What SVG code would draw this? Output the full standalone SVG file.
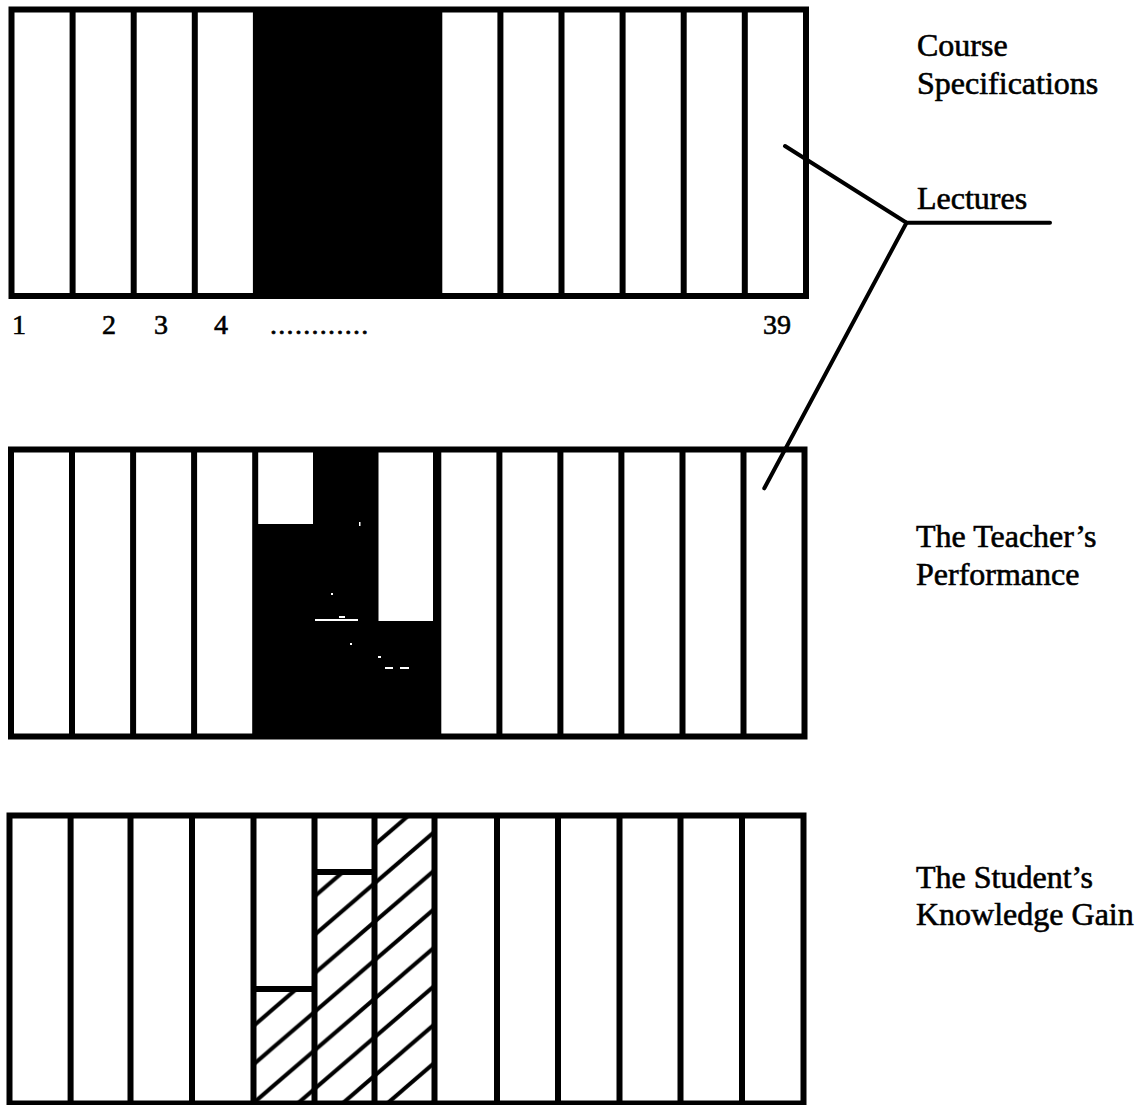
<svg xmlns="http://www.w3.org/2000/svg" width="1147" height="1105" viewBox="0 0 1147 1105">
  <style>
    .frame { fill: none; stroke: #000; stroke-width: 6; }
    .sep { stroke: #000; stroke-width: 6; }
    .lead { stroke: #000; stroke-width: 4; fill: none; stroke-linecap: round; }
    .lbl { font-family: "Liberation Serif", "Times New Roman", serif; font-size: 32px; fill: #000; stroke: #000; stroke-width: 0.6; }
    .num { font-family: "Liberation Serif", "Times New Roman", serif; font-size: 28px; fill: #000; stroke: #000; stroke-width: 0.6; }
  </style>
  <defs>
    <!-- diagonal hatch, lines rising to the right -->
    <pattern id="hatch" patternUnits="userSpaceOnUse" x="0" y="11.9" width="44.77" height="38.5">
      <line x1="-2" y1="40.22" x2="46.77" y2="-1.72" stroke="#000" stroke-width="4"/>
      <line x1="-2" y1="1.72" x2="4" y2="-3.44" stroke="#000" stroke-width="4"/>
      <line x1="40.77" y1="41.94" x2="46.77" y2="36.78" stroke="#000" stroke-width="4"/>
    </pattern>
  </defs>

  <rect width="1147" height="1105" fill="#fff"/>

  <!-- Course specifications: 13 lecture slots, middle block filled -->
  <g id="course-specifications">
    <rect x="255.9" y="9.5" width="183.4" height="286.5" fill="#000"/>
    <g class="sep">
      <line x1="72.6" y1="9.5" x2="72.6" y2="296"/>
      <line x1="133.7" y1="9.5" x2="133.7" y2="296"/>
      <line x1="194.8" y1="9.5" x2="194.8" y2="296"/>
      <line x1="255.9" y1="9.5" x2="255.9" y2="296"/>
      <line x1="439.3" y1="9.5" x2="439.3" y2="296"/>
      <line x1="500.4" y1="9.5" x2="500.4" y2="296"/>
      <line x1="561.5" y1="9.5" x2="561.5" y2="296"/>
      <line x1="622.6" y1="9.5" x2="622.6" y2="296"/>
      <line x1="683.7" y1="9.5" x2="683.7" y2="296"/>
      <line x1="744.8" y1="9.5" x2="744.8" y2="296"/>
    </g>
    <rect class="frame" x="11.5" y="9.5" width="794.5" height="286.5"/>
    <text class="lbl" x="917" y="56">Course</text>
    <text class="lbl" x="917" y="94">Specifications</text>
  </g>

  <!-- lecture numbering -->
  <g id="lecture-numbers" class="num">
    <text x="12" y="334">1</text>
    <text x="102" y="334">2</text>
    <text x="154" y="334">3</text>
    <text x="214" y="334">4</text>
    <text x="270" y="334" letter-spacing="1.3">............</text>
    <text x="763" y="334">39</text>
  </g>

  <!-- teacher's performance -->
  <g id="teacher-performance">
    <rect x="255.2" y="449.5" width="183.1" height="287" fill="#000"/>
    <rect x="257.5" y="452" width="55.5" height="72" fill="#fff"/>
    <rect x="378.5" y="452" width="54.5" height="169" fill="#fff"/>
    <!-- scattered light specks in the dark block -->
    <g fill="#fff">
      <rect x="315" y="619" width="43" height="2"/>
      <rect x="339" y="616" width="6" height="2"/>
      <rect x="385" y="667" width="8" height="2"/>
      <rect x="400" y="667" width="9" height="2"/>
      <rect x="359" y="522" width="1.5" height="4"/>
      <rect x="331" y="593" width="2" height="2"/>
      <rect x="350" y="643" width="2" height="2"/>
      <rect x="378" y="656" width="3" height="2"/>
    </g>
    <g class="sep">
      <line x1="72" y1="449.5" x2="72" y2="736.5"/>
      <line x1="133.1" y1="449.5" x2="133.1" y2="736.5"/>
      <line x1="194.1" y1="449.5" x2="194.1" y2="736.5"/>
      <line x1="255.2" y1="449.5" x2="255.2" y2="736.5"/>
      <line x1="438.3" y1="449.5" x2="438.3" y2="736.5"/>
      <line x1="499.4" y1="449.5" x2="499.4" y2="736.5"/>
      <line x1="560.4" y1="449.5" x2="560.4" y2="736.5"/>
      <line x1="621.4" y1="449.5" x2="621.4" y2="736.5"/>
      <line x1="682.5" y1="449.5" x2="682.5" y2="736.5"/>
      <line x1="743.5" y1="449.5" x2="743.5" y2="736.5"/>
    </g>
    <rect class="frame" x="11" y="449.5" width="793.5" height="287"/>
    <text class="lbl" x="916" y="547">The Teacher’s</text>
    <text class="lbl" x="916" y="585">Performance</text>
  </g>

  <!-- student's knowledge gain -->
  <g id="student-knowledge-gain">
    <rect x="253.5" y="989" width="61" height="114.5" fill="url(#hatch)"/>
    <rect x="314.5" y="872" width="60" height="231.5" fill="url(#hatch)"/>
    <rect x="374.5" y="815.5" width="60" height="288" fill="url(#hatch)"/>
    <g class="sep">
      <line x1="70.6" y1="815.5" x2="70.6" y2="1103.5"/>
      <line x1="130.5" y1="815.5" x2="130.5" y2="1103.5"/>
      <line x1="192" y1="815.5" x2="192" y2="1103.5"/>
      <line x1="253.5" y1="815.5" x2="253.5" y2="1103.5"/>
      <line x1="314.5" y1="815.5" x2="314.5" y2="1103.5"/>
      <line x1="374.5" y1="815.5" x2="374.5" y2="1103.5"/>
      <line x1="434.5" y1="815.5" x2="434.5" y2="1103.5"/>
      <line x1="497" y1="815.5" x2="497" y2="1103.5"/>
      <line x1="558" y1="815.5" x2="558" y2="1103.5"/>
      <line x1="619.5" y1="815.5" x2="619.5" y2="1103.5"/>
      <line x1="680.5" y1="815.5" x2="680.5" y2="1103.5"/>
      <line x1="742" y1="815.5" x2="742" y2="1103.5"/>
      <line x1="253.5" y1="989" x2="314.5" y2="989"/>
      <line x1="314.5" y1="872" x2="374.5" y2="872"/>
    </g>
    <rect class="frame" x="9.5" y="815.5" width="794" height="288"/>
    <text class="lbl" x="916" y="888">The Student’s</text>
    <text class="lbl" x="916" y="925">Knowledge Gain</text>
  </g>

  <!-- "Lectures" callout -->
  <g id="connectors">
    <polyline class="lead" points="785,146 906.5,222.7 1050,222.7"/>
    <line class="lead" x1="906.5" y1="222.7" x2="764.3" y2="488.3"/>
  </g>
  <text id="lectures-label" class="lbl" x="917" y="209">Lectures</text>
</svg>
